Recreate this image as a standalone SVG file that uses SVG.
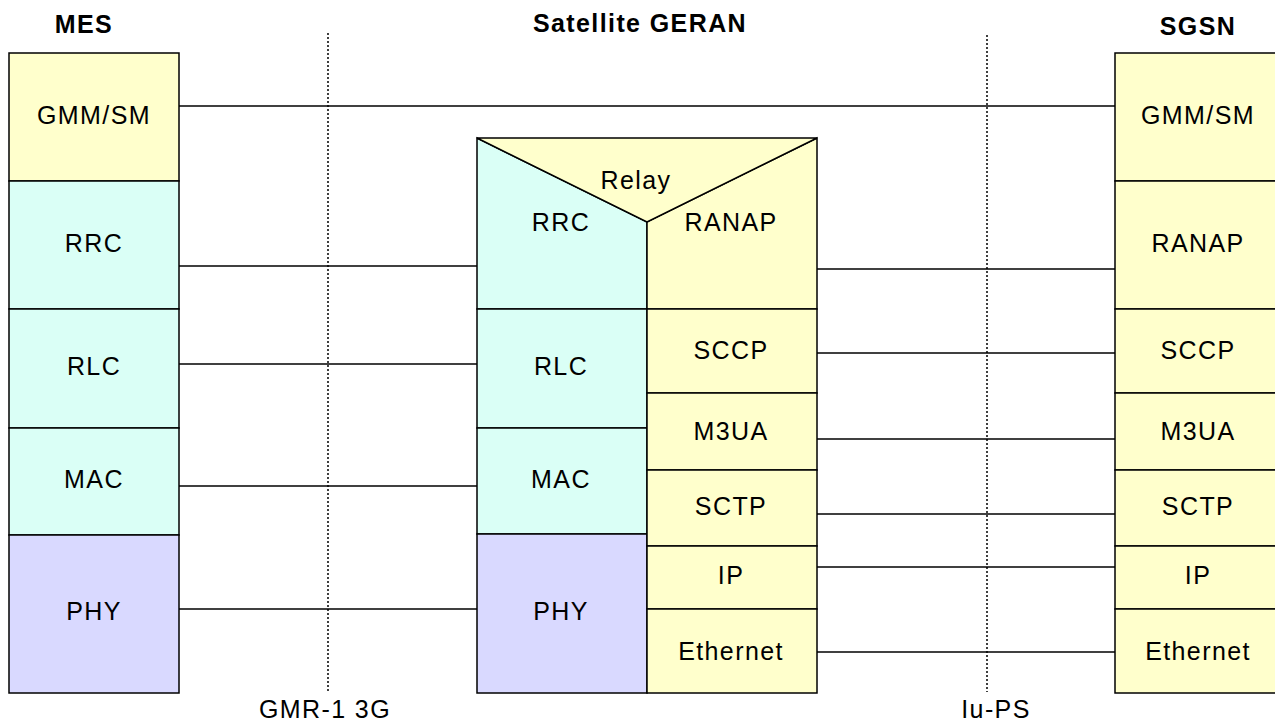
<svg xmlns="http://www.w3.org/2000/svg" width="1275" height="722" viewBox="0 0 1275 722">
<style>
.t{font-family:"Liberation Sans",Arial,sans-serif;font-size:25px;letter-spacing:1.4px;text-anchor:middle;fill:#000}
.b{font-weight:bold}
.y{fill:#FFFFCC;stroke:#000;stroke-width:1.5}
.c{fill:#DAFFF6;stroke:#000;stroke-width:1.5}
.p{fill:#D9D9FF;stroke:#000;stroke-width:1.5}
.l{stroke:#000;stroke-width:1.5;fill:none}
.d{stroke:#000;stroke-width:1.5;stroke-dasharray:2,2;fill:none}
</style>
<rect width="1275" height="722" fill="#fff"/>
<text class="t b" x="84" y="33">MES</text>
<text class="t b" x="640" y="32">Satellite GERAN</text>
<text class="t b" x="1198" y="35">SGSN</text>
<g id="interfaces">
<line class="d" x1="328" y1="33" x2="328" y2="692"/>
<line class="d" x1="987" y1="35" x2="987" y2="692"/>
<text class="t" x="325" y="718">GMR-1 3G</text>
<text class="t" x="996" y="718">Iu-PS</text>
</g>
<g id="connectors">
<line class="l" x1="179" y1="106" x2="1115" y2="106"/>
<line class="l" x1="179" y1="266" x2="477" y2="266"/>
<line class="l" x1="179" y1="364" x2="477" y2="364"/>
<line class="l" x1="179" y1="486" x2="477" y2="486"/>
<line class="l" x1="179" y1="609" x2="477" y2="609"/>
<line class="l" x1="817" y1="269" x2="1115" y2="269"/>
<line class="l" x1="817" y1="353" x2="1115" y2="353"/>
<line class="l" x1="817" y1="439" x2="1115" y2="439"/>
<line class="l" x1="817" y1="514" x2="1115" y2="514"/>
<line class="l" x1="817" y1="567" x2="1115" y2="567"/>
<line class="l" x1="817" y1="652" x2="1115" y2="652"/>
</g>
<g id="mes">
<g id="mes-gmm"><rect class="y" x="9" y="53" width="170" height="128"/><text class="t" x="94" y="124">GMM/SM</text></g>
<g id="mes-rrc"><rect class="c" x="9" y="181" width="170" height="128"/><text class="t" x="94" y="252">RRC</text></g>
<g id="mes-rlc"><rect class="c" x="9" y="309" width="170" height="119"/><text class="t" x="94" y="375">RLC</text></g>
<g id="mes-mac"><rect class="c" x="9" y="428" width="170" height="107"/><text class="t" x="94" y="488">MAC</text></g>
<g id="mes-phy"><rect class="p" x="9" y="535" width="170" height="158"/><text class="t" x="94" y="620">PHY</text></g>
</g>
<g id="geran">
<g id="geran-rrc"><polygon class="c" points="477,138 647,222 647,309 477,309"/><text class="t" x="561" y="231">RRC</text></g>
<g id="geran-ranap"><polygon class="y" points="817,138 817,309 647,309 647,222"/><text class="t" x="731" y="231">RANAP</text></g>
<g id="geran-relay"><polygon class="y" points="477,138 817,138 647,222"/><text class="t" x="636" y="189">Relay</text></g>
<g id="geran-rlc"><rect class="c" x="477" y="309" width="170" height="119"/><text class="t" x="561" y="375">RLC</text></g>
<g id="geran-mac"><rect class="c" x="477" y="428" width="170" height="106"/><text class="t" x="561" y="488">MAC</text></g>
<g id="geran-phy"><rect class="p" x="477" y="534" width="170" height="159"/><text class="t" x="561" y="620">PHY</text></g>
<g id="geran-sccp"><rect class="y" x="647" y="309" width="170" height="84"/><text class="t" x="731" y="359">SCCP</text></g>
<g id="geran-m3ua"><rect class="y" x="647" y="393" width="170" height="77"/><text class="t" x="731" y="440">M3UA</text></g>
<g id="geran-sctp"><rect class="y" x="647" y="470" width="170" height="76"/><text class="t" x="731" y="515">SCTP</text></g>
<g id="geran-ip"><rect class="y" x="647" y="546" width="170" height="63"/><text class="t" x="731" y="584">IP</text></g>
<g id="geran-eth"><rect class="y" x="647" y="609" width="170" height="84"/><text class="t" x="731" y="660">Ethernet</text></g>
</g>
<g id="sgsn">
<g id="sgsn-gmm"><rect class="y" x="1115" y="53" width="170" height="128"/><text class="t" x="1198" y="124">GMM/SM</text></g>
<g id="sgsn-ranap"><rect class="y" x="1115" y="181" width="170" height="128"/><text class="t" x="1198" y="252">RANAP</text></g>
<g id="sgsn-sccp"><rect class="y" x="1115" y="309" width="170" height="84"/><text class="t" x="1198" y="359">SCCP</text></g>
<g id="sgsn-m3ua"><rect class="y" x="1115" y="393" width="170" height="77"/><text class="t" x="1198" y="440">M3UA</text></g>
<g id="sgsn-sctp"><rect class="y" x="1115" y="470" width="170" height="76"/><text class="t" x="1198" y="515">SCTP</text></g>
<g id="sgsn-ip"><rect class="y" x="1115" y="546" width="170" height="63"/><text class="t" x="1198" y="584">IP</text></g>
<g id="sgsn-eth"><rect class="y" x="1115" y="609" width="170" height="84"/><text class="t" x="1198" y="660">Ethernet</text></g>
</g>
</svg>
